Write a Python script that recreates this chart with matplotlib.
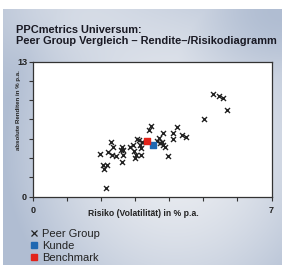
import numpy as np
import matplotlib
matplotlib.use("Agg")
import matplotlib.pyplot as plt
from matplotlib.lines import Line2D
from matplotlib.colors import to_rgb

plt.rcParams["font.family"] = ["Liberation Sans", "DejaVu Sans"]

# Peer group: risk (volatility % p.a.) and absolute return (% p.a.)
peer_risk = [5.29, 5.47, 5.57, 5.70, 5.02, 4.23, 4.10, 4.11, 4.36, 4.49,
             3.45, 3.41, 3.80, 3.70, 3.64, 3.77, 3.82, 3.86, 3.72, 3.96,
             3.10, 3.19, 3.14, 3.16, 2.92, 2.84, 2.96, 3.02, 3.00, 3.16,
             2.60, 2.64, 2.57, 2.63, 2.60, 2.27, 2.35, 2.20, 2.30, 2.43,
             1.96, 2.06, 2.17, 2.08, 2.14, 3.06]
peer_return = [9.85, 9.69, 9.53, 8.34, 7.44, 6.67, 6.09, 5.51, 5.93, 5.71,
               6.80, 6.41, 6.15, 5.61, 5.38, 5.29, 4.97, 4.80, 5.13, 3.94,
               5.45, 5.29, 4.97, 4.65, 4.97, 4.81, 4.42, 4.01, 3.75, 3.97,
               4.81, 4.48, 4.48, 4.01, 3.36, 5.29, 4.81, 4.32, 4.01, 3.91,
               4.10, 3.04, 3.01, 2.68, 0.85, 5.50]

kunde_risk = [3.52]
kunde_return = [5.0]
bench_risk = [3.33]
bench_return = [5.4]

title = "PPCmetrics Universum:\nPeer Group Vergleich \u2013 Rendite\u2013/Risikodiagramm"
legend_labels = ["Peer Group", "Kunde", "Benchmark"]

W, H = 282, 270
fig = plt.figure(figsize=(W / 100, H / 100), dpi=100)

# background panel: light centre, bluish grey towards the edges
bg = fig.add_axes([3 / W, 5 / H, 279 / W, 256 / H], zorder=-10)
gx, gy = np.meshgrid(np.linspace(0, 1, 240), np.linspace(0, 1, 240))
d = np.sqrt(((gx - 0.62) / 0.62) ** 2 + ((gy - 0.45) / 0.75) ** 2)
w = np.clip(d, 0, 1) ** 1.6
w_tr = np.exp(-(((gx - 1.0) / 0.4) ** 2 + ((gy - 1.0) / 0.35) ** 2))
w = np.maximum(w, w_tr)
w = w * (1 - 0.55 * np.exp(-(((gx - 0.25) / 0.3) ** 2 + ((gy - 1.0) / 0.2) ** 2)))
w = np.clip(w, 0, 1)[..., None]
light = np.array(to_rgb("#eceef2"))
blue = np.array(to_rgb("#b0bdd2"))
img = light * (1 - w) + blue * w
bg.imshow(img, extent=[0, 1, 0, 1], aspect="auto", origin="lower")
bg.axis("off")

ax = fig.add_axes([33.3 / W, 1 - 196.5 / H, 238.2 / W, 134.8 / H])
ax.set_facecolor("white")
ax.scatter(peer_risk, peer_return, marker="x", s=13, color="#222222",
           linewidths=1.0, zorder=3)
ax.scatter(kunde_risk, kunde_return, marker="s", s=24, color="#1f68b2", zorder=4)
ax.scatter(bench_risk, bench_return, marker="s", s=24, color="#e2231a", zorder=4)

ax.set_xlim(0, 7)
ax.set_ylim(0, 13)
ax.set_xticks(np.arange(0, 8))
ax.set_xticklabels(["0", "", "", "", "", "", "", "7"])
ax.set_yticks(np.linspace(0, 13, 8))
ax.set_yticklabels(["0", "", "", "", "", "", "", "13"])
ax.tick_params(length=3, width=0.8, color="#333333", labelsize=6.5,
               labelcolor="#222222")
ax.tick_params(axis="x", pad=4)
ax.tick_params(axis="y", pad=1.5)
for lab in ax.get_xticklabels() + ax.get_yticklabels():
    lab.set_fontweight("bold")
for s in ax.spines.values():
    s.set_color("#333333")
    s.set_linewidth(0.9)

ax.set_xlabel("Risiko (Volatilit\u00e4t) in % p.a.", fontsize=6.2,
              fontweight="bold", color="#222222")
ax.xaxis.set_label_coords((143.5 - 33.3) / 238.2, -0.095)
ax.set_ylabel("absolute Renditen in % p.a.", fontsize=4.4,
              fontweight="bold", color="#222222")
ax.yaxis.set_label_coords(-0.05, 0.64)

fig.text(16 / W, 1 - 25 / H, title, fontsize=7.9, fontweight="bold",
         color="#1a1a24", va="top", ha="left", linespacing=1.12)

handles = [
    Line2D([], [], marker="x", ls="", color="#222222", markersize=4, mew=0.9),
    Line2D([], [], marker="s", ls="", color="#1f68b2", markersize=4),
    Line2D([], [], marker="s", ls="", color="#e2231a", markersize=4),
]
fig.legend(handles, legend_labels, loc="upper left",
           bbox_to_anchor=(25 / W, 1 - 223 / H), frameon=False,
           fontsize=8, handlelength=0.6, handletextpad=0.45,
           labelspacing=0.2, borderpad=0, labelcolor="#222222")

fig.savefig("out.png", dpi=100)
